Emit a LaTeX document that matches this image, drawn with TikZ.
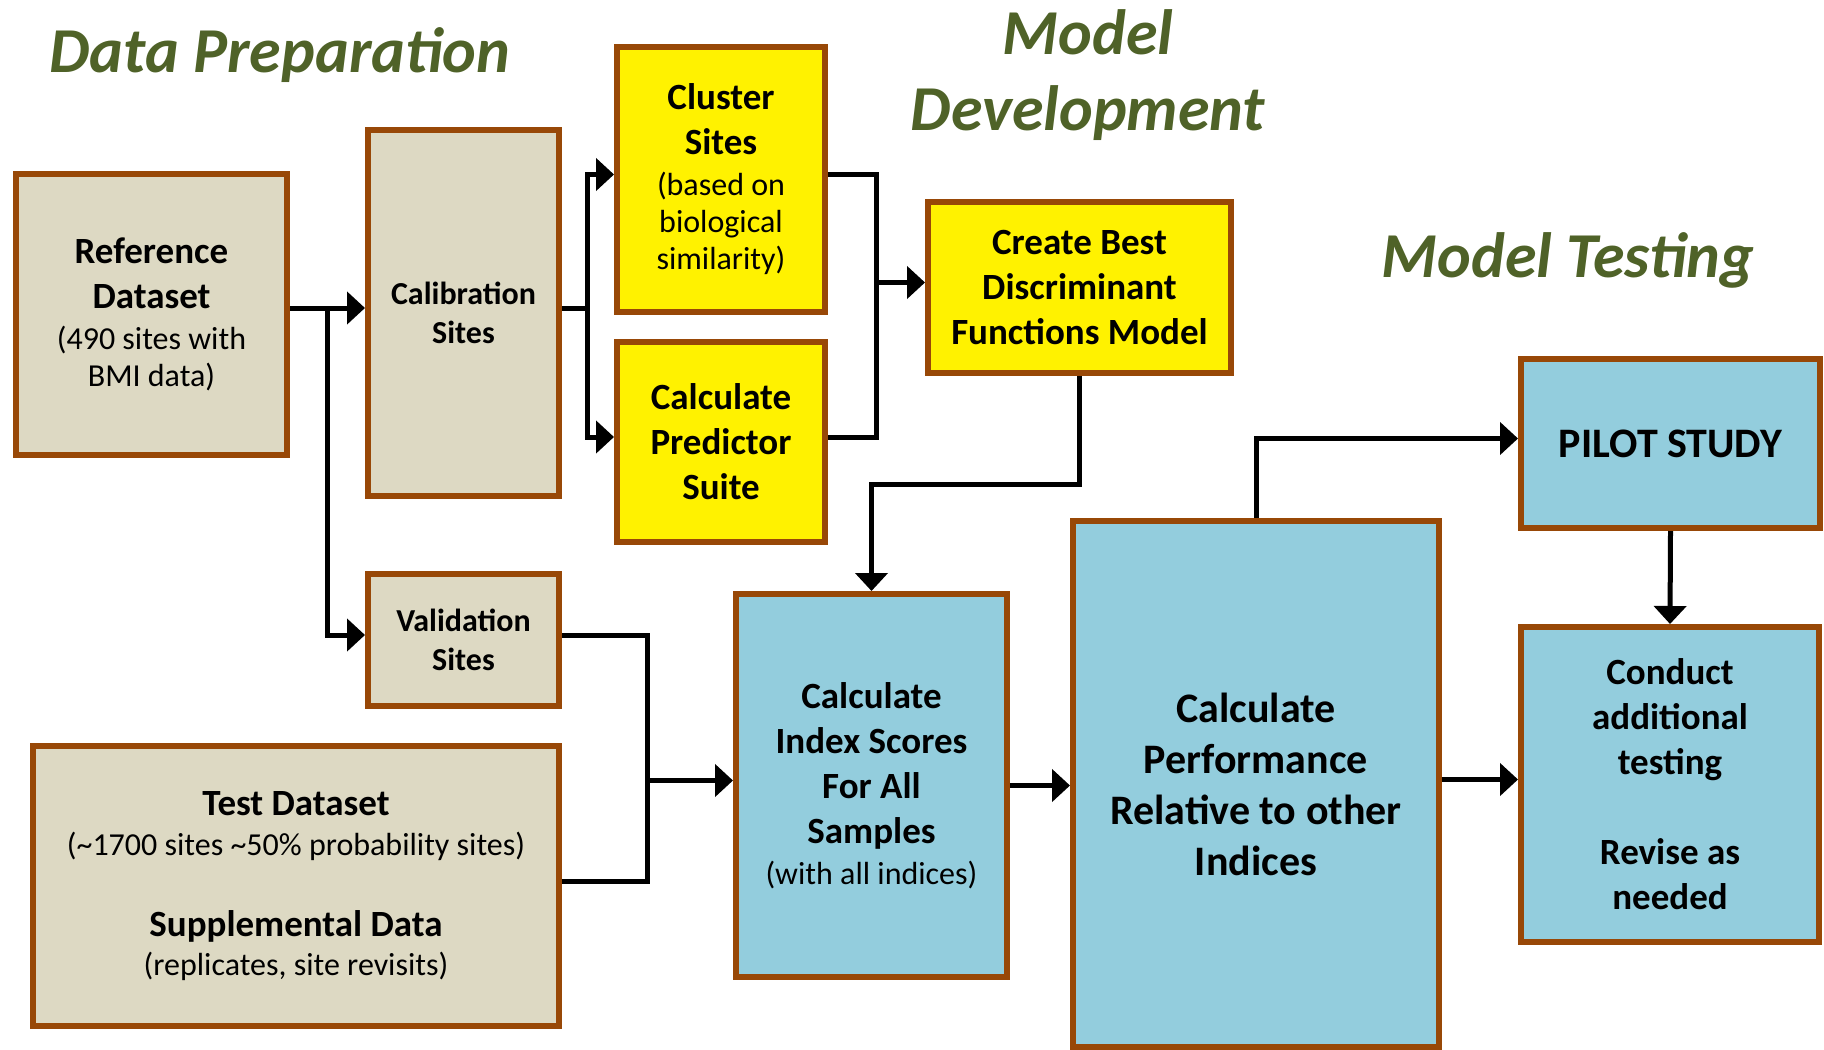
\documentclass[tikz,border=0pt]{standalone}
\usepackage{fontspec}
\setmainfont{Carlito}
\usetikzlibrary{arrows.meta,calc}
\definecolor{BoxBrown}{RGB}{152,72,7}
\definecolor{Tan}{RGB}{221,217,195}
\definecolor{Aqua}{RGB}{147,205,221}
\definecolor{OliveGreen}{RGB}{79,98,40}
\newcommand{\rmpart}{\fontsize{16}{18.5}\selectfont\mdseries}

\begin{document}
\begin{tikzpicture}[x=0.5pt, y=-0.5pt,
	box/.style={draw=BoxBrown, line width=3pt, inner sep=0pt, align=center, font=\fontsize{18.5}{22.5}\selectfont\bfseries},
	tanbox/.style={box, fill=Tan},
	yelbox/.style={box, fill=yellow},
	bluebox/.style={box, fill=Aqua},
	smallbf/.style={font=\fontsize{16}{19.3}\selectfont\bfseries},
	bigbf/.style={font=\fontsize{21}{25.5}\selectfont\bfseries},
	link/.style={line width=2.5pt},
	arr/.style={link, -{Triangle[length=9pt, width=16pt]}},
	ttl/.style={text=OliveGreen, font=\fontsize{32}{38}\selectfont\bfseries\itshape, align=center}]
		\clip (0,0) rectangle (1824,1049);
		
		% titles
		\node[ttl, anchor=base] (tprep) at (280,72.5) {Data Preparation};
		\node[ttl, anchor=base] (tdev) at (1088,130) {Model\\Development};
		\node[ttl, anchor=base] (ttest) at (1568,277) {Model Testing};
		
		% data preparation
		\node[tanbox, minimum width=135.5pt, minimum height=140.5pt] (ref) at (151.5,314.5)
			{Reference\\Dataset\\[-2pt]{\rmpart (490 sites with}\\[-4pt]{\rmpart BMI data)}};
		\node[tanbox, smallbf, minimum width=95.5pt, minimum height=183pt] (calib) at (463.5,313)
			{Calibration\\Sites};
		\node[tanbox, smallbf, minimum width=95.5pt, minimum height=66pt] (valid) at (463.5,640)
			{Validation\\Sites};
		\node[tanbox, minimum width=263pt, minimum height=140pt] (test) at (296,886)
			{Test Dataset\\[-2.5pt]{\rmpart (\textasciitilde 1700 sites \textasciitilde 50\% probability sites)}\\[18pt]
			 Supplemental Data\\[-3pt]{\rmpart (replicates, site revisits)}};
		
		% model development
		\node[yelbox, minimum width=104pt, minimum height=132.5pt] (cluster) at (721,179.5)
			{Cluster\\Sites\\[-2pt]{\rmpart (based on}\\[-4pt]{\rmpart biological}\\[-4pt]{\rmpart similarity)}};
		\node[yelbox, minimum width=104pt, minimum height=100pt] (predictor) at (721,442)
			{Calculate\\Predictor\\Suite};
		\node[yelbox, minimum width=151.5pt, minimum height=85.5pt] (dfm) at (1079.5,287.5)
			{Create Best\\Discriminant\\Functions Model};
		
		% model testing
		\node[bluebox, minimum width=135.5pt, minimum height=191.5pt] (index) at (871.5,785.5)
			{Calculate\\Index Scores\\For All\\Samples\\[-2pt]{\rmpart (with all indices)}};
		\node[bluebox, bigbf, minimum width=183pt, minimum height=263pt] (perf) at (1256,784)
			{Calculate\\Performance\\Relative to other\\Indices};
		\node[bluebox, bigbf, minimum width=149.5pt, minimum height=84.5pt] (pilot) at (1670.5,443.5)
			{PILOT STUDY};
		\node[bluebox, minimum width=149pt, minimum height=157.5pt] (conduct) at (1670,784.5)
			{Conduct\\additional\\testing\\[22.5pt]Revise as\\needed};
		
		% connector ends sit a little above the box middles
		\foreach \n/\a in {calib/west, calib/east, valid/west, valid/east, cluster/west, cluster/east,
				predictor/west, predictor/east, dfm/west, test/east, index/west, pilot/west, conduct/west}
			\coordinate (\n-\a) at ([yshift=2.5pt]\n.\a);
		
		% reference data split
		\coordinate (refj) at ($(calib-west -| ref.east)!0.5!(calib-west)$);
		\draw[arr] (calib-west -| ref.east) -- (calib-west);
		\draw[arr] (refj) |- (valid-west);
		
		% calibration to cluster and predictors
		\coordinate (calj) at ($(calib-east)+(25,0)$);
		\draw[link] (calib-east) -- (calj);
		\draw[arr] (calj) |- (cluster-west);
		\draw[arr] (calj) |- (predictor-west);
		
		% into the model
		\coordinate (mj) at ($(cluster-east)!0.5!(cluster-east -| dfm.west)$);
		\draw[link] (cluster-east) -| (mj |- predictor-east) -- (predictor-east);
		\draw[arr] (mj |- dfm-west) -- (dfm-west);
		\draw[arr] (dfm.south) -- ++(0,108) -| (index.north);
		
		% validation and test data
		\coordinate (vj) at ($(valid-east)!0.5!(valid-east -| index.west)$);
		\draw[link] (valid-east) -| (vj |- test-east) -- (test-east);
		\draw[arr] (vj |- index-west) -- (index-west);
		
		% testing chain
		\draw[arr] (index.east) -- (index.east -| perf.west);
		\draw[arr] (perf.north) |- (pilot-west);
		\draw[arr] (pilot.south) -- (conduct.north);
		\draw[arr] (conduct-west -| perf.east) -- (conduct-west);
		
	\end{tikzpicture}
\end{document}
